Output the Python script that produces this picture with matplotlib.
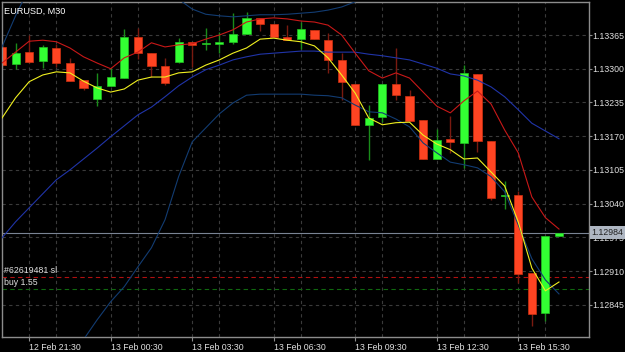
import numpy as np
import pandas as pd
import matplotlib.pyplot as plt
import matplotlib.transforms as mtransforms

plt.rcParams['font.family'] = ['Liberation Sans', 'DejaVu Sans']

# EURUSD M30 bars, oldest first
bar_times = pd.date_range('2019-02-12 20:30', periods=42, freq='30min')

opens = [1.13342, 1.13309, 1.13332, 1.13315, 1.13340, 1.13311, 1.13278, 1.13242,
         1.13267, 1.13282, 1.13361, 1.13330, 1.13305, 1.13313, 1.13352, 1.13347,
         1.13348, 1.13352, 1.13367, 1.13398, 1.13386, 1.13361, 1.13357, 1.13375,
         1.13355, 1.13317, 1.13271, 1.13192, 1.13207, 1.13271, 1.13248, 1.13201,
         1.13126, 1.13165, 1.13157, 1.13290, 1.13161, 1.13055, 1.13057, 1.12907,
         1.12830, 1.12978]
highs = [1.13348, 1.13350, 1.13365, 1.13346, 1.13348, 1.13321, 1.13278, 1.13292,
         1.13301, 1.13377, 1.13379, 1.13330, 1.13321, 1.13359, 1.13352, 1.13379,
         1.13371, 1.13407, 1.13409, 1.13398, 1.13386, 1.13384, 1.13390, 1.13375,
         1.13369, 1.13330, 1.13271, 1.13230, 1.13271, 1.13340, 1.13259, 1.13201,
         1.13184, 1.13209, 1.13307, 1.13290, 1.13161, 1.13084, 1.13065, 1.12907,
         1.12978, 1.12984]
lows = [1.13303, 1.13300, 1.13311, 1.13301, 1.13303, 1.13276, 1.13259, 1.13228,
        1.13267, 1.13282, 1.13319, 1.13284, 1.13269, 1.13311, 1.13303, 1.13336,
        1.13330, 1.13348, 1.13367, 1.13373, 1.13361, 1.13355, 1.13338, 1.13357,
        1.13292, 1.13240, 1.13192, 1.13124, 1.13197, 1.13240, 1.13199, 1.13126,
        1.13126, 1.13138, 1.13109, 1.13140, 1.13047, 1.13030, 1.12887, 1.12805,
        1.12814, 1.12978]
closes = [1.13307, 1.13330, 1.13313, 1.13342, 1.13311, 1.13276, 1.13263, 1.13267,
          1.13284, 1.13361, 1.13330, 1.13305, 1.13273, 1.13352, 1.13346, 1.13348,
          1.13352, 1.13367, 1.13398, 1.13386, 1.13361, 1.13355, 1.13377, 1.13357,
          1.13317, 1.13275, 1.13192, 1.13205, 1.13271, 1.13249, 1.13199, 1.13126,
          1.13163, 1.13159, 1.13292, 1.13161, 1.13051, 1.13057, 1.12905, 1.12828,
          1.12978, 1.12984]

# indicators
fast_ma = [1.13205, 1.13244, 1.13275, 1.13288, 1.13294, 1.13292, 1.13276, 1.13263,
           1.13255, 1.13261, 1.13278, 1.13284, 1.13284, 1.13292, 1.13294, 1.13307,
           1.13317, 1.13330, 1.13340, 1.13357, 1.13359, 1.13355, 1.13352, 1.13344,
           1.13321, 1.13288, 1.13253, 1.13205, 1.13192, 1.13196, 1.13197, 1.13172,
           1.13155, 1.13144, 1.13126, 1.13128, 1.13101, 1.13074, 1.13005, 1.12916,
           1.12872, 1.12889]
red_ma = [1.13311, 1.13332, 1.13353, 1.13355, 1.13352, 1.13340, 1.13323, 1.13311,
          1.13300, 1.13321, 1.13332, 1.13350, 1.13342, 1.13346, 1.13348, 1.13357,
          1.13365, 1.13375, 1.13390, 1.13396, 1.13398, 1.13396, 1.13392, 1.13390,
          1.13384, 1.13365, 1.13330, 1.13296, 1.13282, 1.13292, 1.13282, 1.13255,
          1.13228, 1.13215, 1.13238, 1.13257, 1.13232, 1.13182, 1.13138, 1.13053,
          1.13013, 1.12991]
bb_mid = [1.12974, 1.13005, 1.13032, 1.13059, 1.13086, 1.13105, 1.13126, 1.13147,
          1.13169, 1.13190, 1.13211, 1.13226, 1.13246, 1.13267, 1.13284, 1.13298,
          1.13307, 1.13317, 1.13323, 1.13328, 1.13330, 1.13332, 1.13334, 1.13334,
          1.13332, 1.13332, 1.13332, 1.13328, 1.13325, 1.13321, 1.13317, 1.13309,
          1.13301, 1.13290, 1.13286, 1.13278, 1.13265, 1.13246, 1.13221, 1.13195,
          1.13180, 1.13165]
bb_upper = [1.13342, 1.13402, 1.13456, 1.13500, 1.13529, 1.13538, 1.13544, 1.13544,
            1.13538, 1.13525, 1.13509, 1.13490, 1.13461, 1.13434, 1.13415, 1.13405,
            1.13402, 1.13400, 1.13402, 1.13404, 1.13404, 1.13405, 1.13407, 1.13409,
            1.13413, 1.13419, 1.13429, 1.13448, 1.13467, 1.13481, 1.13494, 1.13513,
            1.13533, 1.13548, 1.13548, 1.13544, 1.13552, 1.13567, 1.13596, 1.13625,
            1.13644, 1.13654]
bb_lower = [1.12614, 1.12623, 1.12643, 1.12672, 1.12704, 1.12743, 1.12778, 1.12816,
            1.12851, 1.12880, 1.12918, 1.12955, 1.13009, 1.13092, 1.13159, 1.13186,
            1.13213, 1.13234, 1.13249, 1.13251, 1.13251, 1.13251, 1.13251, 1.13249,
            1.13248, 1.13244, 1.13230, 1.13217, 1.13215, 1.13203, 1.13188, 1.13157,
            1.13138, 1.13120, 1.13115, 1.13109, 1.13092, 1.13063, 1.12999, 1.12934,
            1.12893, 1.12866]

price_ticks = [1.13365, 1.13300, 1.13235, 1.13170, 1.13105, 1.13040, 1.12975,
               1.12910, 1.12845]
bid = 1.12984
sl_price = 1.12899
buy_price = 1.12876


def main():
    o = np.array(opens)
    h = np.array(highs)
    l = np.array(lows)
    c = np.array(closes)
    idx = np.arange(len(o))
    up = c >= o

    fig = plt.figure(figsize=(6.25, 3.52), dpi=100, facecolor='black')
    ax = fig.add_axes([2 / 625, 15 / 352, 587 / 625, 335 / 352])
    ax.set_facecolor('black')

    # wicks then bodies
    ax.vlines(idx[up], l[up], h[up], color='#1a8c1a', lw=1, zorder=2)
    ax.vlines(idx[~up], l[~up], h[~up], color='#7a1a10', lw=1, zorder=2)
    body = np.maximum(np.abs(c - o), 0.000025)
    bottom = np.minimum(o, c)
    ax.bar(idx[up], body[up], bottom=bottom[up], width=0.6,
           color='#33ff33', edgecolor='#22c022', linewidth=0.5, zorder=2.2)
    ax.bar(idx[~up], body[~up], bottom=bottom[~up], width=0.6,
           color='#ff4422', edgecolor='#d03010', linewidth=0.5, zorder=2.2)

    # indicators
    ax.plot(idx, bb_upper, color='#123c72', lw=0.8, zorder=3)
    ax.plot(idx, bb_lower, color='#123c72', lw=0.8, zorder=3)
    ax.plot(idx, bb_mid, color='#2034a8', lw=0.8, zorder=3)
    ax.plot(idx, red_ma, color='#c81818', lw=0.8, zorder=3)
    ax.plot(idx, fast_ma, color='#f0f020', lw=0.8, zorder=3)

    # order lines and current price
    ax.axhline(sl_price, color='#b01010', ls=(0, (4, 3)), lw=0.8, zorder=1.5)
    ax.axhline(buy_price, color='#106810', ls=(0, (4, 3)), lw=0.8, zorder=1.5)
    ax.axhline(bid, color='#7a8494', lw=0.8, zorder=1.6)

    ax.set_xlim(0, 587 / 13.585)
    ax.set_ylim(1.12783, 1.134286)

    # time axis: labels every 3h, grid every 1.5h
    labels_at = [i for i, t in enumerate(bar_times) if t.hour % 3 == 0 and t.minute == 30]
    grid_at = [i for i, t in enumerate(bar_times)
               if (t.hour * 60 + t.minute - 90) % 180 == 0 and i not in labels_at]
    ax.set_xticks(labels_at)
    ax.set_xticklabels([bar_times[i].strftime('%d %b %H:%M').lstrip('0') for i in labels_at])
    ax.set_xticks(grid_at, minor=True)
    for lbl in ax.get_xticklabels():
        lbl.set_ha('left')

    ax.yaxis.tick_right()
    ax.set_yticks(price_ticks)
    ax.set_yticklabels([f'{p:.5f}' for p in price_ticks])

    ax.tick_params(axis='both', which='major', colors='#8c8c8c', labelcolor='#e0e0e0',
                   labelsize=6.3, width=0.8)
    ax.tick_params(axis='x', which='major', pad=1.5, length=3)
    ax.tick_params(axis='y', which='major', pad=0.3, length=2)
    ax.tick_params(axis='x', which='minor', length=0)

    ax.grid(True, which='both', color='#3a3a3a', ls=(0, (3, 3)), lw=0.8)
    ax.set_axisbelow(True)
    for s in ax.spines.values():
        s.set_color('#8c8c8c')
        s.set_linewidth(1)

    # bid label over the price scale
    ytrans = mtransforms.blended_transform_factory(ax.transAxes, ax.transData)
    ax.text(1.004, bid, '1.12984', transform=ytrans, ha='left', va='center',
            fontsize=6.3, color='#202020', clip_on=False, zorder=10,
            bbox=dict(facecolor='#aeb6c2', edgecolor='none', pad=1.3))

    ax.text(0.003, 0.985, 'EURUSD, M30', transform=ax.transAxes, ha='left', va='top',
            fontsize=6.6, color='white')
    ax.text(0.004, sl_price + 0.00003, '#62619481 sl', transform=ytrans, ha='left',
            va='bottom', fontsize=6.3, color='#e0e0e0')
    ax.text(0.004, buy_price + 0.00003, 'buy 1.55', transform=ytrans, ha='left',
            va='bottom', fontsize=6.3, color='#e0e0e0')

    fig.savefig('out.png', dpi=100, facecolor='black')
    plt.close(fig)


if __name__ == '__main__':
    main()
